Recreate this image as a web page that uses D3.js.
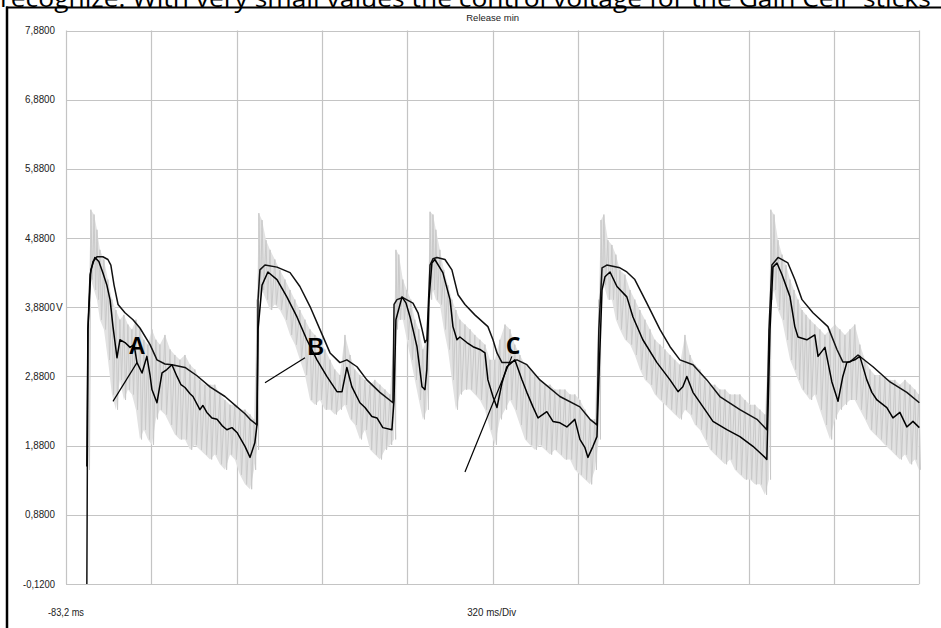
<!DOCTYPE html>
<html><head><meta charset="utf-8">
<script src="https://cdn.jsdelivr.net/npm/d3@7/dist/d3.min.js"></script>
<style>html,body{margin:0;padding:0;background:#fff;overflow:hidden}</style>
</head><body>
<svg id="chart" width="941" height="628"></svg>
<script>
// ---- data (time in ms, voltage in V) ----
const headerText = "recognize. With very small values the control voltage for the Gain Cell \u201Csticks\u201D";
const chartTitle = "Release min";
const xStart = -83.2, msPerDiv = 320, xDivs = 10;
const yTickValues = [-0.12, 0.88, 1.88, 2.88, 3.88, 4.88, 5.88, 6.88, 7.88];
const yTickLabels = ["-0,1200","0,8800","1,8800","2,8800","3,8800","4,8800","5,8800","6,8800","7,8800"];
const yUnit = "V";
const xStartLabel = "-83,2 ms";
const xDivLabel = "320 ms/Div";

// slow envelope (upper black)
const upperT = [-5,-1,7,18,33,55,74,85,97,112,138,168,194,232,258,288,314,363,408,457,513,558,588,607,633,
 637,644,663,708,757,794,832,869,907,944,970,1008,1045,1094,1143,
 1147,1158,1180,1218,1237,1252,1263,1270,
 1282,1293,1308,1338,1364,1387,1413,1450,1499,1518,1533,1552,1582,1608,1645,1694,1769,1844,1882,1908,
 1915,1927,1945,1994,2020,2050,2095,2144,2182,2219,2268,2320,2369,2444,2508,2545,
 2553,2564,2587,2624,2650,2677,2718,2774,2808,2830,2857,2887,2943,3007,3070,3117];
const upperV = [-0.12,3.56,4.35,4.54,4.61,4.61,4.57,4.49,4.20,3.92,3.80,3.70,3.58,3.34,3.12,3.06,3.05,3.01,2.89,2.73,2.59,2.44,2.34,2.26,2.18,
 3.99,4.42,4.49,4.46,4.38,4.18,3.89,3.56,3.22,3.08,3.12,3.02,2.83,2.65,2.50,
 3.92,3.99,4.02,3.94,3.80,3.56,3.37,3.41,
 4.49,4.58,4.60,4.57,4.42,4.06,3.92,3.77,3.60,3.41,3.22,3.08,3.08,3.12,3.05,2.83,2.59,2.44,2.26,2.18,
 3.56,4.45,4.49,4.45,4.39,4.28,3.94,3.56,3.31,3.12,3.05,2.83,2.59,2.40,2.26,2.11,
 3.56,4.49,4.60,4.52,4.28,3.99,3.80,3.60,3.27,3.09,3.09,3.19,3.02,2.80,2.65,2.50];

// fast envelope (lower black)
const lowerT = [-5,-1,10,25,40,55,70,82,93,108,119,138,157,172,183,202,220,232,239,258,277,295,314,333,348,363,382,393,419,430,445,464,483,502,520,539,558,573,588,607,625,633,
 637,652,674,708,745,783,820,858,895,933,952,970,989,1019,1038,1064,1083,1105,1139,
 1147,1154,1177,1192,1207,1233,1252,1263,1270,
 1278,1289,1300,1330,1357,1368,1383,1394,1420,1443,1469,1488,1499,1518,1533,1552,1570,1600,1627,1645,1668,1687,1720,1743,1769,1795,1825,1844,1863,1874,1893,1908,
 1915,1927,1938,1957,1983,2020,2043,2080,2133,2182,2212,2230,2245,2268,2320,2343,2395,2444,2493,2538,2545,
 2557,2568,2583,2602,2632,2650,2662,2695,2725,2737,2763,2789,2812,2830,2845,2875,2894,2920,2939,2958,2995,3018,3044,3070,3093,3117];
const lowerV = [1.58,3.56,4.42,4.60,4.54,4.38,4.20,3.99,3.60,3.15,3.41,3.37,3.30,3.34,3.08,2.93,3.17,2.90,2.69,2.50,2.93,2.98,3.05,2.88,2.76,2.72,2.63,2.59,2.40,2.46,2.36,2.28,2.26,2.17,2.11,2.14,2.07,1.97,1.87,1.71,1.92,2.18,
 3.56,4.20,4.39,4.28,4.03,3.74,3.41,3.12,2.88,2.66,2.66,3.01,2.73,2.50,2.43,2.30,2.28,2.14,2.11,
 2.54,3.70,4.03,3.94,3.74,3.31,2.73,2.69,2.98,
 3.99,4.52,4.57,4.38,3.99,3.60,3.41,3.45,3.37,3.31,3.27,3.22,2.83,2.59,2.43,2.79,3.02,3.12,2.83,2.65,2.44,2.28,2.37,2.23,2.21,2.15,2.26,1.97,1.85,1.71,1.87,2.01,
 2.83,4.13,4.32,4.39,4.18,4.03,3.74,3.41,3.08,2.83,2.66,2.73,2.88,2.65,2.36,2.23,2.11,2.01,1.87,1.71,1.68,
 3.56,4.46,4.52,4.35,4.03,3.60,3.45,3.41,3.48,3.17,3.30,2.80,2.52,2.88,3.08,3.12,3.17,2.83,2.65,2.54,2.43,2.28,2.36,2.15,2.23,2.14];

// raw signal (light gray), sampled as local high / low excursions
const rawT = [-1,10,22,33,44,59,74,89,104,119,134,149,164,179,194,209,224,239,254,269,288,307,325,344,363,382,400,419,438,457,475,494,513,532,550,569,588,607,622,633,
 640,652,667,682,700,719,738,757,775,794,813,832,850,869,888,907,925,944,963,982,1000,1019,1038,1057,1075,1094,1113,1132,1147,
 1154,1165,1180,1195,1210,1225,1240,1255,1270,
 1282,1293,1304,1319,1334,1349,1364,1379,1394,1413,1432,1450,1469,1488,1507,1525,1544,1563,1582,1600,1619,1638,1657,1675,1694,1713,1732,1750,1769,1788,1807,1825,1844,1863,1882,1900,1915,
 1923,1934,1949,1964,1979,1994,2013,2032,2050,2069,2088,2107,2125,2144,2163,2182,2200,2219,2238,2257,2275,2294,2313,2332,2350,2369,2388,2407,2425,2444,2463,2482,2500,2519,2538,2553,
 2560,2572,2587,2602,2617,2632,2647,2662,2677,2692,2707,2725,2744,2763,2782,2800,2819,2838,2857,2875,2894,2913,2932,2950,2969,2988,3007,3025,3044,3063,3082,3100,3115];
const rawHi = [3.56,5.29,5.22,5.00,4.71,4.57,4.28,3.99,3.84,3.70,3.77,3.63,3.56,3.70,3.56,3.41,3.34,3.56,3.41,3.34,3.48,3.27,3.19,3.12,3.19,3.05,2.98,2.83,2.76,2.76,2.76,2.62,2.54,2.47,2.47,2.40,2.40,2.33,2.26,3.99,
 5.24,5.14,4.85,4.71,4.57,4.42,4.28,4.13,3.99,3.84,3.70,3.56,3.48,3.41,3.27,3.12,2.98,2.90,3.48,3.19,2.98,2.90,2.83,2.76,2.83,2.76,2.69,2.62,3.56,
 4.71,4.64,4.28,4.13,3.99,3.70,3.56,3.27,3.41,
 5.26,5.22,5.00,4.71,4.42,4.20,3.99,3.84,3.70,3.63,3.56,3.48,3.41,3.34,3.12,3.12,3.41,3.63,3.56,3.34,3.19,3.05,2.98,2.90,2.83,2.76,2.76,2.69,2.69,2.69,2.62,2.62,2.54,2.40,2.26,2.26,3.99,
 5.14,5.22,4.85,4.78,4.64,4.42,4.35,4.13,3.99,3.84,3.70,3.56,3.41,3.34,3.27,3.19,3.12,3.05,3.48,3.19,3.05,2.98,2.83,2.76,2.76,2.69,2.69,2.62,2.62,2.62,2.54,2.47,2.47,2.40,2.33,3.56,
 5.29,5.22,4.85,4.64,4.49,4.28,4.13,3.99,3.84,3.77,3.70,3.63,3.56,3.48,3.56,3.63,3.56,3.48,3.56,3.63,3.34,3.12,2.98,2.90,2.90,2.86,2.83,2.83,2.76,2.83,2.76,2.69,2.62];
const rawLo = [1.53,4.28,4.13,3.99,3.70,3.56,3.12,2.62,2.40,2.83,2.54,2.69,2.62,2.40,1.97,2.11,1.97,1.89,2.26,2.40,2.33,2.18,2.04,1.97,1.97,1.82,1.89,1.82,1.75,1.68,1.75,1.61,1.53,1.75,1.68,1.46,1.32,1.25,1.53,1.82,
 3.99,4.13,3.99,3.84,3.92,3.84,3.70,3.48,3.34,3.12,2.90,2.54,2.47,2.54,2.40,2.40,2.33,2.40,2.47,2.26,2.18,1.97,2.11,1.82,1.75,1.68,1.82,1.89,1.97,
 3.56,3.70,3.70,3.41,3.12,2.83,2.54,2.26,2.40,
 3.99,4.13,3.99,3.92,3.56,3.27,2.83,2.40,2.62,2.69,2.69,2.62,2.54,2.40,2.11,1.89,2.26,2.40,2.54,2.40,2.18,1.97,1.89,1.82,1.89,1.82,1.75,1.82,1.75,1.68,1.68,1.53,1.46,1.39,1.32,1.53,1.97,
 4.13,4.20,3.99,3.99,3.70,3.56,3.41,3.34,3.19,2.98,2.83,2.76,2.62,2.54,2.47,2.40,2.33,2.26,2.40,2.33,2.18,2.11,1.97,1.82,1.75,1.68,1.61,1.68,1.53,1.46,1.39,1.39,1.32,1.32,1.17,1.39,
 3.99,4.13,3.84,3.70,3.41,3.12,2.98,2.83,2.69,2.62,2.54,2.62,2.40,2.18,1.97,2.26,2.40,2.47,2.54,2.54,2.40,2.26,2.11,2.04,1.97,1.89,1.82,1.75,1.68,1.75,1.61,1.68,1.53];

// annotations: label, pointer start (t,v), pointer end (t,v), label anchor (t,v)
const annLabels = ["A","B","C"];
const annFrom = [[93,2.52],[663,2.79],[1413,1.50]];
const annTo   = [[183,3.08],[813,3.15],[1589,3.17]];
const annPos  = [[183,3.21],[854,3.19],[1593,3.21]];

// ---- drawing ----
const svg = d3.select("#chart");
const W = 941, H = 628;
const plot = {left: 66, right: 919.3, top: 30.5, bottom: 584};

const x = d3.scaleLinear().domain([xStart, xStart + msPerDiv * xDivs]).range([plot.left, plot.right]);
const y = d3.scaleLinear().domain([yTickValues[0], yTickValues[yTickValues.length-1]]).range([plot.bottom, plot.top]);

// header text (cut off at top) and frame
svg.append("text").attr("x", 0).attr("y", 7)
  .attr("font-family", "Open Sans, Noto Sans, sans-serif").attr("font-size", 23)
  .attr("textLength", 940).attr("lengthAdjust", "spacingAndGlyphs")
  .attr("fill", "#000").text(headerText);
svg.append("line").attr("x1", 6).attr("x2", W).attr("y1", 7.5).attr("y2", 7.5)
  .attr("stroke", "#000").attr("stroke-width", 2);
svg.append("line").attr("x1", 7).attr("x2", 7).attr("y1", 6.5).attr("y2", H)
  .attr("stroke", "#000").attr("stroke-width", 2.5);

// title
svg.append("text").attr("x", x(xStart + msPerDiv * 5) ).attr("y", 21)
  .attr("text-anchor", "middle").attr("font-family", "Liberation Sans, Arial, sans-serif")
  .attr("font-size", 9.5).attr("fill", "#222").text(chartTitle);

// grid
const gridColor = "#c4c4c4";
const g = svg.append("g");
const xGrid = d3.range(0, xDivs + 1).map(i => xStart + i * msPerDiv);
g.selectAll("line.vx").data(xGrid).join("line")
  .attr("x1", d => Math.round(x(d)) + 0.5).attr("x2", d => Math.round(x(d)) + 0.5)
  .attr("y1", plot.top).attr("y2", plot.bottom)
  .attr("stroke", gridColor).attr("stroke-width", 1.2);
g.selectAll("line.hy").data(yTickValues).join("line")
  .attr("x1", plot.left).attr("x2", plot.right)
  .attr("y1", d => Math.round(y(d)) + 0.5).attr("y2", d => Math.round(y(d)) + 0.5)
  .attr("stroke", gridColor).attr("stroke-width", 1.2);

// y labels
const yl = svg.append("g").attr("font-family", "Liberation Sans, Arial, sans-serif")
  .attr("font-size", 10).attr("fill", "#222");
yl.selectAll("text").data(yTickValues).join("text")
  .attr("x", 55).attr("y", d => y(d) + 3.5).attr("text-anchor", "end")
  .attr("textLength", (d,i) => yTickLabels[i].length === 7 ? 32 : 30).attr("lengthAdjust", "spacingAndGlyphs")
  .text((d, i) => yTickLabels[i]);
yl.append("text").attr("x", 56).attr("y", y(3.88) + 3.5).text(yUnit);

// x labels
svg.append("text").attr("x", 48).attr("y", 616)
  .attr("font-family", "Liberation Sans, Arial, sans-serif").attr("font-size", 10)
  .attr("fill", "#222").attr("textLength", 36).attr("lengthAdjust", "spacingAndGlyphs").text(xStartLabel);
svg.append("text").attr("x", x(xStart + msPerDiv * 5) - 1).attr("y", 616).attr("text-anchor", "middle")
  .attr("font-family", "Liberation Sans, Arial, sans-serif").attr("font-size", 10)
  .attr("fill", "#222").attr("textLength", 49).attr("lengthAdjust", "spacingAndGlyphs").text(xDivLabel);

// raw signal band
const rawIdx = d3.range(rawT.length);
const area = d3.area().x(i => x(rawT[i])).y0(i => y(rawLo[i])).y1(i => y(rawHi[i])).curve(d3.curveLinear);
svg.append("path").attr("d", area(rawIdx)).attr("fill", "#e2e2e2").attr("stroke", "none");
const zig = [];
rawIdx.forEach(i => { zig.push([x(rawT[i]), y(rawHi[i])]); zig.push([x(rawT[i]) + 1.6, y(rawLo[i])]); });
svg.append("path").attr("d", d3.line()(zig)).attr("fill", "none").attr("stroke", "#c9c9c9").attr("stroke-width", 1);

// envelopes
const line = d3.line().x(d => x(d[0])).y(d => y(d[1]));
svg.append("path").attr("d", line(upperT.map((t, i) => [t, upperV[i]])))
  .attr("fill", "none").attr("stroke", "#111").attr("stroke-width", 1.5).attr("stroke-linejoin", "round");
svg.append("path").attr("d", line(lowerT.map((t, i) => [t, lowerV[i]])))
  .attr("fill", "none").attr("stroke", "#000").attr("stroke-width", 1.5).attr("stroke-linejoin", "round");

// annotations
const ann = svg.append("g");
annLabels.forEach((lab, i) => {
  ann.append("line").attr("x1", x(annFrom[i][0])).attr("y1", y(annFrom[i][1]))
    .attr("x2", x(annTo[i][0])).attr("y2", y(annTo[i][1]))
    .attr("stroke", "#000").attr("stroke-width", 1.2);
  ann.append("text").attr("x", x(annPos[i][0])).attr("y", y(annPos[i][1]))
    .attr("text-anchor", "middle").attr("font-family", i === 2 ? "Open Sans, sans-serif" : "Liberation Sans, Arial, sans-serif")
    .attr("font-weight", "bold").attr("font-size", 23).attr("fill", "#000").text(lab);
});
</script>
</body></html>
